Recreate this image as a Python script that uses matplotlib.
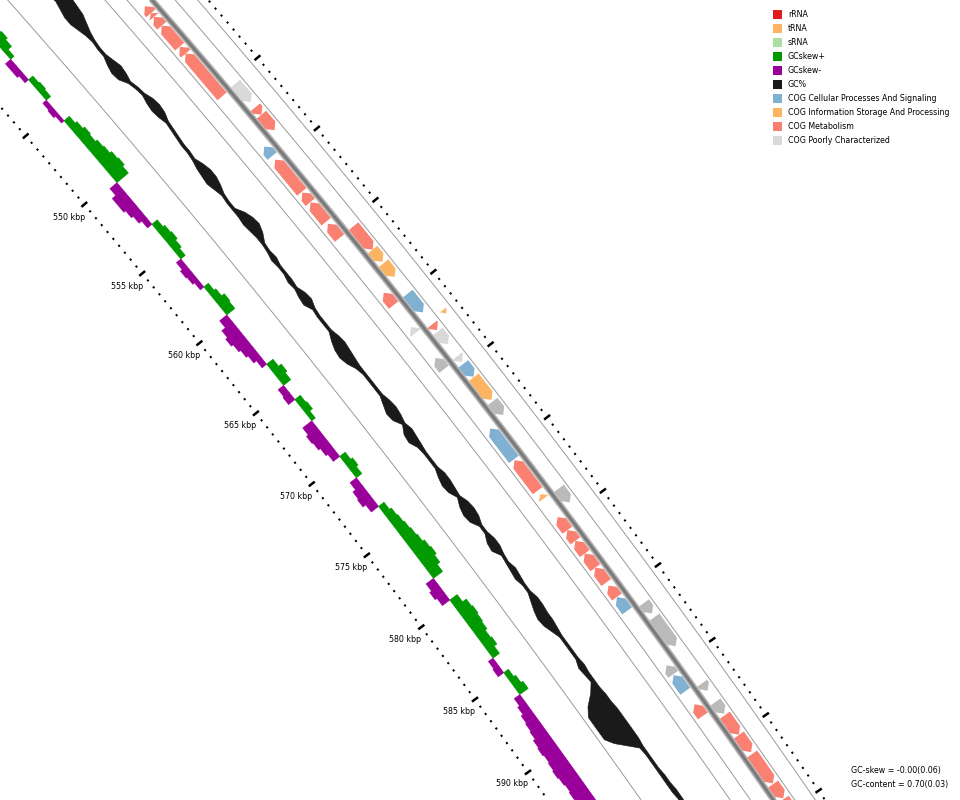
import numpy as np
import matplotlib
matplotlib.use("Agg")
import matplotlib.pyplot as plt
from matplotlib.collections import LineCollection, PolyCollection
from matplotlib.patches import Polygon, Rectangle

# ---------------- data ----------------
WIN_START = 538.0   # kbp of first sliding window
WIN_STEP = 0.5      # kbp between windows

# GC skew per window
gc_skew = [
    0.06, 0.08, 0.10, 0.09, 0.10, 0.08, 0.04, -0.06, -0.06, -0.04,
    0.05, 0.06, 0.05, -0.04, -0.05, -0.03, 0.06, 0.08, 0.10, 0.09,
    0.11, 0.12, 0.14, 0.15, 0.13, -0.08, -0.12, -0.12, -0.10, -0.08,
    -0.05, 0.06, 0.08, 0.09, 0.07, 0.05, -0.05, -0.07, -0.06, -0.04,
    0.05, 0.07, 0.10, 0.09, -0.08, -0.12, -0.14, -0.12, -0.10, -0.08,
    -0.05, 0.07, 0.10, 0.08, -0.06, -0.07, 0.06, 0.07, 0.04, -0.10,
    -0.12, -0.11, -0.09, -0.07, 0.06, 0.08, 0.06, -0.07, -0.10, -0.11,
    -0.08, 0.06, 0.08, 0.09, 0.10, 0.11, 0.12, 0.14, 0.15, 0.13,
    0.10, -0.08, -0.10, -0.08, 0.08, 0.12, 0.13, 0.12, 0.11, 0.09,
    0.10, 0.07, -0.05, -0.06, 0.05, 0.07, 0.09, -0.06, -0.08, -0.10,
    -0.11, -0.12, -0.14, -0.15, -0.14, -0.15, -0.16, -0.15, -0.14, -0.15,
    -0.14, -0.13, -0.14, -0.12, -0.12, -0.10, -0.09, -0.10, -0.08, -0.07,
    -0.08, -0.06, -0.07, -0.05, -0.06,
]

# GC content, max / min deviation from the mean within each window (% points)
gc_hi = [
    3.5, 3.75, 4.0, 4.0, 4.0, 3.75, 3.5, 3.25, 3.0, 2.25,
    1.5, 1.0, 0.75, 0.75, 1.25, 1.75, 1.5, 1.0, 1.5, 1.75,
    2.5, 2.75, 2.5, 1.75, 1.5, 1.25, 1.0, 1.0, 0.75, 1.5,
    2.0, 2.0, 1.5, 0.75, 0.5, 0.5, 1.75, 2.5, 2.75, 2.0,
    0.75, 0.5, 0.75, 0.25, 0.25, 0.25, 0.0, 0.75, 1.0, 0.25,
    0.0, 0.0, 0.0, 0.5, 0.75, 0.5, 0.25, 0.0, 0.0, 0.0,
    0.0, 0.0, 0.5, 0.75, 0.5, 0.0, 0.5, 0.25, 0.0, -0.25,
    -0.25, -0.25, 0.25, 0.25, 0.0, -0.25, 0.5, 0.75, 0.5, -0.25,
    -0.25, 0.25, 0.25, -0.25, -0.5, 0.0, -0.25, -0.5, -0.5, 0.0,
    0.0, -0.25, -0.25, -0.5, -0.75, -0.75, -0.75, -0.75, -0.5, -0.75,
    -0.75, -0.75, -0.5, -0.5, -0.25, -0.25, -0.25, -0.25, -0.25, -0.5,
    -0.5, -0.5, -0.5, -0.25, -0.25, 0.0, 0.0, 0.0, -0.25, -0.25,
    0.0, -0.25, 0.0, -0.25, -0.25,
]
gc_lo = [
    -0.25, -0.25, -0.5, -0.5, -0.25, 0.0, -0.5, -1.0, -1.0, -0.5,
    0.0, 0.25, 0.0, 0.0, -0.75, -1.25, -1.0, 0.25, 0.75, 1.0,
    0.5, 0.25, 0.5, 1.0, 0.75, 0.5, 0.25, 0.25, 0.0, -0.5,
    -0.75, -1.0, -0.5, 0.0, -0.25, -0.25, -0.25, -0.5, -0.25, 0.0,
    0.0, -0.25, -0.75, -0.5, -0.5, -1.0, -0.75, -1.25, -1.5, -0.5,
    -0.75, -0.75, -0.75, -1.75, -2.5, -2.75, -2.25, -1.25, -0.75, -0.75,
    -0.75, -0.75, -1.5, -2.25, -2.0, -0.75, -2.0, -2.25, -1.25, -1.0,
    -1.0, -1.0, -1.75, -2.25, -2.0, -1.0, -2.0, -2.5, -2.25, -1.0,
    -1.0, -2.0, -2.25, -1.0, -1.25, -1.5, -1.75, -1.25, -1.25, -2.0,
    -2.75, -3.25, -3.0, -2.25, -1.5, -1.5, -1.5, -1.5, -2.25, -2.0,
    -1.75, -3.5, -6.0, -7.5, -7.5, -7.5, -7.5, -6.0, -3.75, -1.5,
    -1.25, -1.25, -1.25, -1.25, -1.25, -1.25, -1.0, -1.0, -1.25, -1.25,
    -1.25, -1.25, -1.25, -1.25, -1.25,
]

# genes: (start kbp, end kbp, strand, COG class)
features = [
    (543.9, 544.4, -1, "met"), (544.4, 544.66, -1, "met"), (544.66, 545.3, -1, "met"),
    (545.3, 546.8, -1, "met"), (546.82, 547.3, -1, "met"), (547.3, 550.36, -1, "met"),
    (553.93, 554.6, -1, "cell"), (554.86, 557.13, -1, "met"), (557.18, 557.86, -1, "met"),
    (557.88, 559.23, -1, "met"), (559.38, 560.38, -1, "met"), (564.21, 565.07, -1, "met"),
    (566.6, 567.0, -1, "poor"), (568.74, 569.51, -1, "none"), (573.6, 575.72, -1, "cell"),
    (575.78, 577.86, -1, "met"), (578.1, 578.4, -1, "info"), (579.66, 580.55, -1, "met"),
    (580.55, 581.28, -1, "met"), (581.28, 582.14, -1, "met"), (582.14, 583.1, -1, "met"),
    (583.1, 584.1, -1, "met"), (584.31, 585.08, -1, "met"), (585.09, 586.02, -1, "cell"),
    (589.68, 590.29, -1, "none"), (590.34, 591.42, -1, "cell"), (592.29, 593.07, -1, "met"),
    (550.3, 551.6, 1, "poor"), (551.98, 552.5, 1, "met"), (552.5, 553.6, 1, "met"),
    (560.36, 562.0, 1, "met"), (562.0, 562.85, 1, "info"), (562.95, 563.9, 1, "info"),
    (565.06, 566.37, 1, "cell"), (567.2, 567.6, 1, "met"), (567.69, 568.57, 1, "poor"),
    (569.4, 569.8, 1, "poor"), (569.93, 570.82, 1, "cell"), (570.85, 572.41, 1, "info"),
    (572.52, 573.45, 1, "none"), (578.46, 579.42, 1, "none"), (586.21, 586.93, 1, "none"),
    (587.17, 589.12, 1, "none"), (591.6, 592.1, 1, "none"), (592.85, 593.64, 1, "none"),
    (593.73, 595.03, 1, "met"), (595.05, 596.19, 1, "met"), (596.31, 598.26, 1, "met"),
    (598.3, 599.25, 1, "met"), (599.3, 600.5, 1, "met"),
]
trnas = [(566.95, 567.2, 1)]

cog_colors = {
    "cell": "#80b1d3",
    "info": "#fdb462",
    "met": "#fa8072",
    "poor": "#d9d9d9",
    "none": "#bababa",
}

legend_labels = ["rRNA", "tRNA", "sRNA", "GCskew+", "GCskew-", "GC%",
                 "COG Cellular Processes And Signaling",
                 "COG Information Storage And Processing",
                 "COG Metabolism", "COG Poorly Characterized"]
legend_colors = ["#e31a1c", "#fdb462", "#addfa2", "#009900", "#990099", "#1a1a1a",
                 "#80b1d3", "#fdb462", "#fa8072", "#d9d9d9"]

summary_lines = ["GC-skew = -0.00(0.06)", "GC-content = 0.70(0.03)"]

# ---------------- map geometry ----------------
DEG_PER_KBP = 0.1133
ZERO_DEG = -12.585

R_RULER_IN = 9113
R_SKEW = 9152
R_GC = 9224
R_REV = 9288
R_BACKBONE = 9297.5
R_FWD = 9306.5
R_TRNA = 9324
R_RULER_OUT = 9340
SLOT_LINES = [9189, 9262, 9278.6, 9315, 9332]

SKEW_SCALE = 115.0   # map units per skew unit
GC_SCALE = 4.0       # map units per % point
ARROW_HW = 6.0
HEAD = 0.33          # kbp


def to_xy(pos, r):
    a = np.radians(ZERO_DEG + np.asarray(pos, dtype=float) * DEG_PER_KBP)
    return r * np.sin(a), r * np.cos(a)


def arrow(start, end, strand, r, hw):
    h = min(HEAD, end - start)
    if strand > 0:
        b = end - h
        pts = [(start, r + hw), (b, r + hw), (end, r), (b, r - hw), (start, r - hw)]
    else:
        b = start + h
        pts = [(end, r + hw), (b, r + hw), (start, r), (b, r - hw), (end, r - hw)]
    return [to_xy(p, rr) for p, rr in pts]


fig = plt.figure(figsize=(9.6, 8), dpi=100)
ax = fig.add_axes([0, 0, 1, 1])
ax.set_xlim(6869, 7829)
ax.set_ylim(5295, 6095)
ax.axis("off")

win_pos = WIN_START + WIN_STEP * np.arange(len(gc_skew))
arc = np.linspace(528, 612, 500)

# slot divider lines
for r in SLOT_LINES:
    x, y = to_xy(arc, r)
    ax.plot(x, y, color="#9a9a9a", lw=0.7, zorder=1)

# GC skew bars
polys, cols = [], []
for p, v in zip(win_pos, gc_skew):
    ps = np.linspace(p - WIN_STEP / 2, p + WIN_STEP / 2, 3)
    r1 = R_SKEW + v * SKEW_SCALE
    xo, yo = to_xy(ps, r1)
    xi, yi = to_xy(ps[::-1], R_SKEW)
    polys.append(np.column_stack([np.r_[xo, xi], np.r_[yo, yi]]))
    cols.append("#009900" if v >= 0 else "#990099")
ax.add_collection(PolyCollection(polys, facecolors=cols, edgecolors=cols, linewidths=0.4, zorder=2))

# GC content band
hi = R_GC + np.array(gc_hi) * GC_SCALE
lo = R_GC + np.array(gc_lo) * GC_SCALE
xh, yh = to_xy(win_pos, hi)
xl, yl = to_xy(win_pos[::-1], lo[::-1])
ax.add_patch(Polygon(np.column_stack([np.r_[xh, xl], np.r_[yh, yl]]),
                     closed=True, facecolor="#1a1a1a", edgecolor="#1a1a1a", lw=0.4, zorder=2))

# backbone
x, y = to_xy(arc, R_BACKBONE)
ax.plot(x, y, color="#b3b3b3", lw=4.5, solid_capstyle="butt", zorder=3)
ax.plot(x, y, color="#7a7a7a", lw=2.2, solid_capstyle="butt", zorder=3)

# genes
for s, e, strand, cat in features:
    r = R_FWD if strand > 0 else R_REV
    ax.add_patch(Polygon(arrow(s, e, strand, r, ARROW_HW), closed=True,
                         facecolor=cog_colors[cat], edgecolor="none", zorder=4))
for s, e, strand in trnas:
    ax.add_patch(Polygon(arrow(s, e, strand, R_TRNA, 4.0), closed=True,
                         facecolor="#fdb462", edgecolor="none", zorder=4))

# rulers
tick_pos = np.arange(536, 602.01, 0.5)
for r_ruler, labelled in [(R_RULER_IN, True), (R_RULER_OUT, False)]:
    segs, widths = [], []
    for p in tick_pos:
        major = p % 5 == 0
        half = 3.8 if major else 1.0
        x0, y0 = to_xy(p, r_ruler - half)
        x1, y1 = to_xy(p, r_ruler + half)
        segs.append([(x0, y0), (x1, y1)])
        widths.append(1.8 if major else 1.5)
    ax.add_collection(LineCollection(segs, colors="black", linewidths=widths,
                                     capstyle="butt", zorder=5))
    if labelled:
        for p in tick_pos[tick_pos % 5 == 0]:
            lx, ly = to_xy(p, r_ruler - 20)
            if 6869 + 20 < lx < 7829 - 20 and 5295 + 8 < ly < 6095 - 8:
                ax.text(lx, ly, f"{int(p)} kbp", fontsize=5.7, ha="center",
                        va="center", color="black", zorder=6)

# legend
for i, (lab, col) in enumerate(zip(legend_labels, legend_colors)):
    yc = 14.5 + 14 * i
    fig.add_artist(Rectangle((773 / 960, 1 - (yc + 4.5) / 800), 9 / 960, 9 / 800,
                             transform=fig.transFigure, facecolor=col, edgecolor="none"))
    fig.text(788 / 960, 1 - yc / 800, lab, fontsize=5.7, va="center", ha="left")

for i, line in enumerate(summary_lines):
    fig.text(851 / 960, 1 - (771 + 14 * i) / 800, line, fontsize=5.7, va="center", ha="left")

fig.savefig("out.png", dpi=100, facecolor="white")
